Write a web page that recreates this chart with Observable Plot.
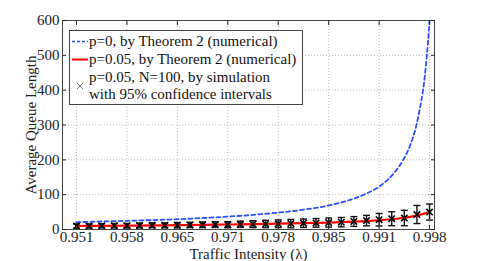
<!DOCTYPE html>
<html><head><meta charset="utf-8">
<script src="https://cdn.jsdelivr.net/npm/d3@7"></script>
<script src="https://cdn.jsdelivr.net/npm/@observablehq/plot@0.6"></script>
<style>
body{margin:0;background:#fff}
#wrap{position:relative;width:480px;height:261px;font-family:"Liberation Serif","Times New Roman",serif}
#wrap svg text{font-family:"Liberation Serif","Times New Roman",serif;font-size:15px}
#legend{position:absolute;left:69px;top:30px}
</style>
</head><body><div id="wrap"></div>
<script>
// Traffic intensity values of the simulation / Theorem 2 (p=0.05) points
const lambda = [0.95120,0.952875,0.95455,0.956225,0.95790,0.959575,0.96125,0.962925,0.96460,0.966275,0.96795,0.969625,0.97130,0.972975,0.97465,0.976325,0.97800,0.979675,0.98135,0.983025,0.98470,0.986375,0.98805,0.989725,0.99140,0.993075,0.99475,0.996425,0.99810];
// p=0.05, by Theorem 2 (numerical)
const redY = [10,10.2,10.5,10.8,11,11.3,11.7,12.1,12.5,12.9,13.3,13.8,14.3,14.8,15.4,16,16.6,17.3,18.1,19,20,21.2,22.5,24.2,26.5,29.5,33.5,40,50];
// p=0.05, N=100, by simulation (mean and 95% CI half-width)
const simY = [10,10,10.5,11,11,11.5,12,12,12.5,13,13.5,14,14,15,15.5,16,16.5,17,18,19,20,21,23,25.5,28,31,33,43,50];
const simErr = [6,6,6,6.5,6.5,7,7,7,7.5,7.5,8,8,8.5,9,10,10.5,11,12,12,12.5,13,13.5,14,15,18,20,22,26,23];
// p=0, by Theorem 2 (numerical)
const blueX = [0.9512,0.9546,0.9579,0.9613,0.9646,0.9680,0.9713,0.9747,0.9780,0.9814,0.9847,0.9864,0.9881,0.9897,0.9914,0.9925,0.9935,0.9946,0.9955,0.9963,0.9968,0.9972,0.9975,0.9977,0.9979,0.9981,0.9983];
const blueY = [21,23,25,27,29.5,33,37,42,48.5,57,69,78,89,103,123,142,165,200,240,295,345,395,445,490,540,600,670];
// axes
const xTickValues = [0.9512,0.9579,0.9646,0.9713,0.9780,0.9847,0.9914,0.9981];
const xTickLabels = ["0.951","0.958","0.965","0.971","0.978","0.985","0.991","0.998"];
const yTicks = [0,100,200,300,400,500,600];

const red = lambda.map((x,i)=>({x, y: redY[i]}));
const sim = lambda.map((x,i)=>({x, y: simY[i], lo: simY[i]-simErr[i], hi: simY[i]+simErr[i]}));
const blue = blueX.map((x,i)=>({x, y: blueY[i]}));

const cap = {draw(ctx, size){ const w = 3.5; ctx.moveTo(-w,0); ctx.lineTo(w,0); }};

const chart = Plot.plot({
  width: 480, height: 261,
  marginLeft: 62, marginRight: 46, marginTop: 20, marginBottom: 32,
  style: {fontFamily: '"Liberation Serif", serif', fontSize: "15px", color: "#222", background: "#fff"},
  x: {domain: [0.94934, 0.99876]},
  y: {domain: [0, 600]},
  marks: [
    Plot.gridX(xTickValues, {stroke: "#bbb", strokeOpacity: 1, strokeDasharray: "1,2"}),
    Plot.gridY(yTicks, {stroke: "#bbb", strokeOpacity: 1, strokeDasharray: "1,2"}),
    Plot.line(blue, {x: "x", y: "y", stroke: "#2f4fff", strokeWidth: 1.8, strokeDasharray: "4,3", curve: "monotone-x", clip: true}),
    Plot.ruleX(sim, {x: "x", y1: "lo", y2: "hi", stroke: "#111", strokeWidth: 1.4, clip: true}),
    Plot.dot(sim, {x: "x", y: "lo", symbol: cap, stroke: "#111", strokeWidth: 1.4, clip: true}),
    Plot.dot(sim, {x: "x", y: "hi", symbol: cap, stroke: "#111", strokeWidth: 1.4, clip: true}),
    Plot.line(red, {x: "x", y: "y", stroke: "#ff0000", strokeWidth: 2.2}),
    Plot.dot(sim, {x: "x", y: "y", symbol: "times", r: 3, stroke: "#000", strokeWidth: 1.6}),
    Plot.frame({stroke: "#444"}),
    Plot.axisX(xTickValues, {anchor: "bottom", tickSize: -4, tickPadding: 6, tickFormat: (d,i)=>xTickLabels[i], label: "Traffic Intensity (λ)", labelAnchor: "center", labelArrow: "none", labelOffset: 29}),
    Plot.axisX(xTickValues, {anchor: "top", tickSize: -4, tickFormat: () => "", label: null}),
    Plot.axisY(yTicks, {anchor: "left", tickSize: -4, tickPadding: 7, label: "Average Queue Length", labelAnchor: "center", labelOffset: 37, labelArrow: "none"}),
    Plot.axisY(yTicks, {anchor: "right", tickSize: -4, tickFormat: () => "", label: null})
  ]
});

const wrap = document.getElementById("wrap");
wrap.appendChild(chart);

// legend overlay
const legendItems = [
  {kind: "dash", lines: ["p=0, by Theorem 2 (numerical)"]},
  {kind: "solid", lines: ["p=0.05, by Theorem 2 (numerical)"]},
  {kind: "cross", lines: ["p=0.05, N=100, by simulation", "with 95% confidence intervals"]}
];
const lg = d3.create("svg").attr("id","legend").attr("width",234).attr("height",75);
lg.append("rect").attr("x",0.5).attr("y",0.5).attr("width",233).attr("height",74).attr("fill","#fff").attr("stroke","#444");
const rowY = [11.5, 29.5];
lg.append("line").attr("x1",3).attr("x2",19).attr("y1",rowY[0]).attr("y2",rowY[0]).attr("stroke","#2f4fff").attr("stroke-width",1.5).attr("stroke-dasharray","3,2");
lg.append("line").attr("x1",3).attr("x2",19).attr("y1",rowY[1]).attr("y2",rowY[1]).attr("stroke","#ff0000").attr("stroke-width",2);
lg.append("path").attr("d","M8,53 L14,59 M14,53 L8,59").attr("stroke","#777").attr("stroke-width",1);
lg.append("text").attr("x",20).attr("y",rowY[0]+4.5).attr("fill","#111").text(legendItems[0].lines[0]);
lg.append("text").attr("x",20).attr("y",rowY[1]+4.5).attr("fill","#111").text(legendItems[1].lines[0]);
lg.append("text").attr("x",20).attr("y",51.5).attr("fill","#111").text(legendItems[2].lines[0]);
lg.append("text").attr("x",20).attr("y",68.5).attr("fill","#111").text(legendItems[2].lines[1]);
wrap.appendChild(lg.node());
</script>
</body></html>
